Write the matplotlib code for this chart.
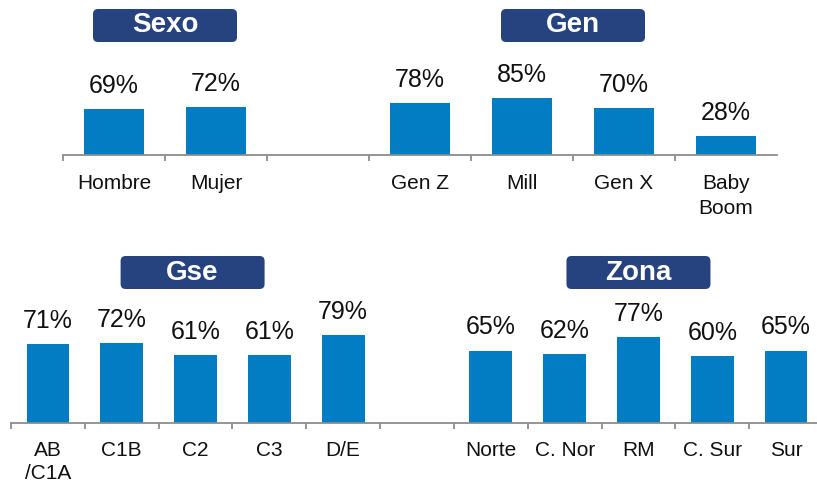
import matplotlib.pyplot as plt
from matplotlib.patches import FancyBboxPatch
from matplotlib.transforms import IdentityTransform

plt.rcParams['font.family'] = ['Liberation Sans', 'DejaVu Sans']

# data
sexoLabels = ['Hombre', 'Mujer']
sexoValues = [69, 72]
genLabels = ['Gen Z', 'Mill', 'Gen X', 'Baby\nBoom']
genValues = [78, 85, 70, 28]
gseLabels = ['AB\n/C1A', 'C1B', 'C2', 'C3', 'D/E']
gseValues = [71, 72, 61, 61, 79]
zonaLabels = ['Norte', 'C. Nor', 'RM', 'C. Sur', 'Sur']
zonaValues = [65, 62, 77, 60, 65]

BAR = '#027cc2'
BOX = '#27437f'
AXIS = '#8c8c8c'
W, H = 817, 483


def plotRow(ax, groups, ymax, nTicks, pad, spacing):
    # two groups side by side, one empty slot between them
    labels = []
    values = []
    centers = []
    for gi, (labs, vals) in enumerate(groups):
        if gi > 0:
            labels.append('')
            values.append(None)
        start = len(labels)
        labels += labs
        values += vals
        centers.append(start + (len(labs) - 1) / 2)

    for i, v in enumerate(values):
        if v is None:
            continue
        ax.bar(i, v, width=0.58, color=BAR)
        ax.annotate(str(v) + '%', (i, v), xytext=(0, 8), textcoords='offset points',
                    ha='center', va='bottom', fontsize=18, color='#111111')

    ax.set_xlim(-0.5, len(labels) - 0.5)
    ax.set_ylim(0, ymax)
    for s in ['top', 'right', 'left']:
        ax.spines[s].set_visible(False)
    ax.spines['bottom'].set_color(AXIS)
    ax.spines['bottom'].set_linewidth(1.3)
    ax.spines['bottom'].set_clip_on(False)
    ax.set_yticks([])

    ax.set_xticks([i - 0.5 for i in range(nTicks)])
    ax.set_xticklabels([])
    ax.tick_params(axis='x', which='major', length=4, width=1.3, color=AXIS, direction='out')
    ax.set_xticks(range(len(labels)), minor=True)
    ax.set_xticklabels(labels, minor=True, fontsize=15, color='#111111', linespacing=spacing)
    ax.tick_params(axis='x', which='minor', length=0, pad=pad)
    return centers


def titleBox(fig, ax, xData, yTop, text):
    bw, bh = 144, 33
    xc = ax.transData.transform((xData, 0))[0]
    box = FancyBboxPatch((xc - bw / 2, H - yTop - bh), bw, bh,
                         boxstyle='round,pad=0,rounding_size=5',
                         facecolor=BOX, edgecolor='none', transform=IdentityTransform())
    fig.add_artist(box)
    fig.text(xc, H - yTop - bh / 2, text, transform=IdentityTransform(), ha='center', va='center',
             fontsize=20, fontweight='bold', color='white')


fig = plt.figure(figsize=(W / 100, H / 100), dpi=100)

axTop = fig.add_axes([63 / W, (H - 155) / H, 714 / W, 120 / H])
topCenters = plotRow(axTop, [(sexoLabels, sexoValues), (genLabels, genValues)],
                     120 / 0.67, 7, 14, 1.38)

axBot = fig.add_axes([11 / W, (H - 423) / H, 812 / W, 120 / H])
botCenters = plotRow(axBot, [(gseLabels, gseValues), (zonaLabels, zonaValues)],
                     120 / 1.115, 11, 13, 1.28)

titleBox(fig, axTop, topCenters[0], 9, 'Sexo')
titleBox(fig, axTop, topCenters[1], 9, 'Gen')
titleBox(fig, axBot, botCenters[0] - 0.04, 256, 'Gse')
titleBox(fig, axBot, botCenters[1], 256, 'Zona')

fig.savefig('out.png', dpi=100)
